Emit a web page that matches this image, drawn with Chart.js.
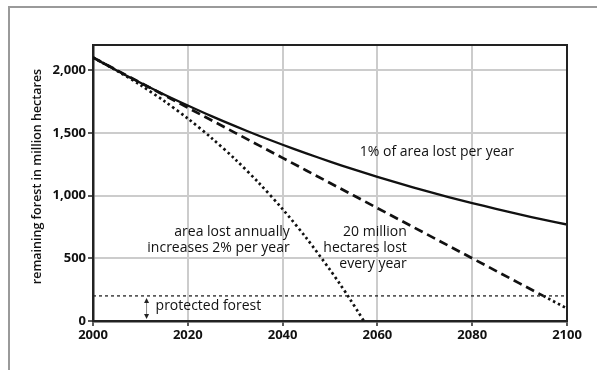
<!DOCTYPE html>
<html>
<head>
<meta charset="utf-8">
<script src="https://cdn.jsdelivr.net/npm/chart.js@4/dist/chart.umd.min.js"></script>
<style>
  html, body { margin: 0; padding: 0; background: #fff; }
  #wrap { position: relative; width: 597px; height: 370px; overflow: hidden; }
  #frame { position: absolute; left: 8px; top: 6px; width: 600px; height: 380px;
           border-top: 2px solid #9a9a9a; border-left: 2px solid #9a9a9a; }
  canvas { position: absolute; left: 0; top: 0; }
</style>
</head>
<body>
<div id="wrap">
  <div id="frame"></div>
  <canvas id="c" width="597" height="370"></canvas>
</div>
<script>
// ---- data ----
const years = [2000, 2005, 2010, 2015, 2020, 2025, 2030, 2035, 2040, 2045, 2050,
               2055, 2060, 2065, 2070, 2075, 2080, 2085, 2090, 2095, 2100];
const onePercentLoss = [2100, 1997, 1899, 1806, 1718, 1633, 1553, 1477, 1405, 1336, 1271,
                        1208, 1149, 1093, 1039, 988, 940, 894, 850, 808, 769];
const twentyMillionLoss = [2100, 2000, 1900, 1800, 1700, 1600, 1500, 1400, 1300, 1200, 1100,
                           1000, 900, 800, 700, 600, 500, 400, 300, 200, 100];
const acceleratingYears = [2000, 2005, 2010, 2015, 2020, 2025, 2030, 2035, 2040, 2045, 2050,
                           2052, 2054, 2056, 2057, 2057.1];
const acceleratingLoss = [2100, 1996, 1881, 1754, 1614, 1459, 1289, 1100, 892, 662, 408,
                          300, 187, 69, 8, 0];
const protectedYears = [2000, 2100];
const protectedForest = [200, 200];
const yTicks = [0, 500, 1000, 1500, 2000];
const xTicks = [2000, 2020, 2040, 2060, 2080, 2100];

const FONT = "'Open Sans', 'Noto Sans', sans-serif";
const pts = (xs, ys) => xs.map((x, i) => ({ x: x, y: ys[i] }));

const frameAndNotes = {
  id: 'frameAndNotes',
  afterDatasetsDraw(chart) {
    const { ctx, chartArea: a, scales: { x, y } } = chart;
    ctx.save();
    // top and right frame
    ctx.strokeStyle = '#222';
    ctx.lineWidth = 2;
    ctx.beginPath();
    ctx.moveTo(a.left, a.top);
    ctx.lineTo(a.right, a.top);
    ctx.lineTo(a.right, a.bottom);
    ctx.stroke();

    // arrow for protected forest
    const ax = x.getPixelForValue(2011.3);
    const y1 = y.getPixelForValue(200) + 2;
    const y0 = y.getPixelForValue(0) - 2;
    ctx.strokeStyle = '#888';
    ctx.fillStyle = '#222';
    ctx.lineWidth = 1;
    ctx.beginPath();
    ctx.moveTo(ax, y1 + 3); ctx.lineTo(ax, y0 - 3); ctx.stroke();
    ctx.beginPath();
    ctx.moveTo(ax, y1); ctx.lineTo(ax - 2.5, y1 + 5); ctx.lineTo(ax + 2.5, y1 + 5); ctx.closePath(); ctx.fill();
    ctx.beginPath();
    ctx.moveTo(ax, y0); ctx.lineTo(ax - 2.5, y0 - 5); ctx.lineTo(ax + 2.5, y0 - 5); ctx.closePath(); ctx.fill();

    // text notes
    ctx.fillStyle = '#111';
    ctx.font = '14px ' + FONT;
    ctx.textBaseline = 'middle';
    ctx.textAlign = 'left';
    ctx.fillText('protected forest', x.getPixelForValue(2013.2), y.getPixelForValue(118));
    ctx.fillText('1% of area lost per year', x.getPixelForValue(2056.3), y.getPixelForValue(1346));
    ctx.textAlign = 'right';
    ctx.fillText('area lost annually', x.getPixelForValue(2041.5), y.getPixelForValue(708));
    ctx.fillText('increases 2% per year', x.getPixelForValue(2041.5), y.getPixelForValue(581));
    ctx.fillText('20 million', x.getPixelForValue(2066.2), y.getPixelForValue(708));
    ctx.fillText('hectares lost', x.getPixelForValue(2066.2), y.getPixelForValue(581));
    ctx.fillText('every year', x.getPixelForValue(2066.2), y.getPixelForValue(453));
    ctx.restore();
  }
};

new Chart(document.getElementById('c'), {
  type: 'line',
  data: {
    datasets: [
      {
        label: 'protected forest',
        data: pts(protectedYears, protectedForest),
        borderColor: '#222', borderWidth: 1.3, borderDash: [3, 3],
        pointRadius: 0, tension: 0
      },
      {
        label: '1% of area lost per year',
        data: pts(years, onePercentLoss),
        borderColor: '#111', borderWidth: 2.3, pointRadius: 0, tension: 0.3
      },
      {
        label: '20 million hectares lost every year',
        data: pts(years, twentyMillionLoss),
        borderColor: '#111', borderWidth: 2.7, borderDash: [9, 5],
        pointRadius: 0, tension: 0,
        segment: { borderDash: c => c.p0.parsed.y <= 200 ? [2.5, 3] : undefined }
      },
      {
        label: 'area lost annually increases 2% per year',
        data: pts(acceleratingYears, acceleratingLoss),
        borderColor: '#111', borderWidth: 2.7, borderDash: [2.5, 3],
        pointRadius: 0, tension: 0.3
      }
    ]
  },
  options: {
    responsive: false,
    animation: false,
    layout: { padding: { left: 0, top: 45, right: 30, bottom: 0 } },
    plugins: { legend: { display: false }, tooltip: { enabled: false } },
    scales: {
      x: {
        type: 'linear', min: 2000, max: 2100,
        afterBuildTicks: s => { s.ticks = xTicks.map(v => ({ value: v })); },
        afterFit: s => { s.height = 49; },
        grid: { color: '#cccccc', lineWidth: 2, tickColor: '#222', tickLength: 5, tickWidth: 1.5 },
        border: { color: '#222', width: 2.5 },
        ticks: { color: '#111', font: { family: FONT, size: 13, weight: 'bold' }, padding: 1,
                 maxRotation: 0, callback: v => String(v) }
      },
      y: {
        min: 0, max: 2200,
        afterBuildTicks: s => { s.ticks = yTicks.map(v => ({ value: v })); },
        afterFit: s => { s.width = 93; },
        grid: { color: '#cccccc', lineWidth: 2, tickColor: '#222', tickLength: 5, tickWidth: 1.5 },
        border: { color: '#222', width: 2.5 },
        ticks: { color: '#111', font: { family: FONT, size: 13, weight: 'bold' }, padding: 2,
                 callback: v => v.toLocaleString('en-US') },
        title: { display: true, text: '    remaining forest in million hectares', color: '#111',
                 font: { family: FONT, size: 12.5, weight: '600' }, padding: { top: 30, bottom: 0 } }
      }
    }
  },
  plugins: [frameAndNotes]
});
</script>
</body>
</html>
